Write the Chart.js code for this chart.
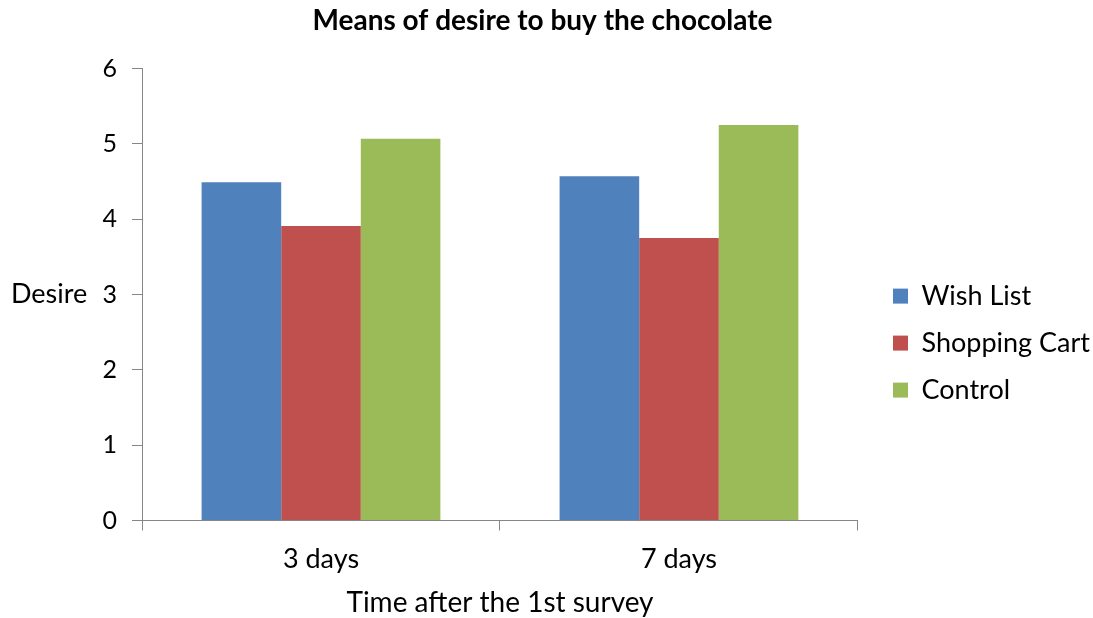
<!DOCTYPE html>
<html><head><meta charset="utf-8">
<script src="https://cdn.jsdelivr.net/npm/chart.js@4/dist/chart.umd.min.js"></script>
<style>html,body{margin:0;padding:0;background:#fff;}#wrap{width:1093px;height:618px;}</style>
</head><body><div id="wrap"><canvas id="c" width="1093" height="618"></canvas></div>
<script>
const categories = ["3 days", "7 days"];
const wishList = [4.49, 4.57];
const shoppingCart = [3.91, 3.75];
const control = [5.07, 5.25];
const yTicks = [0, 1, 2, 3, 4, 5, 6];
const titleText = "Means of desire to buy the chocolate";
const xTitle = "Time after the 1st survey";
const yTitle = "Desire";

const FONT = "Lato, 'Open Sans', sans-serif";
const axisColor = "#868686";

const yTitlePlugin = {
  id: 'yTitle',
  afterDraw(chart) {
    const ctx = chart.ctx;
    const y = chart.scales.y;
    ctx.save();
    ctx.font = "27px " + FONT;
    ctx.fillStyle = "#000";
    ctx.textAlign = "left";
    ctx.textBaseline = "middle";
    ctx.fillText(yTitle, 11, y.getPixelForValue(3));
    ctx.restore();
  }
};

// leave a small gap between the plot area and the legend
const legendGapPlugin = {
  id: 'legendGap',
  afterLayout(chart) {
    const lg = chart.legend;
    if (lg) { lg.left += 15; lg.right += 15; }
  }
};

new Chart(document.getElementById('c'), {
  type: 'bar',
  data: {
    labels: categories,
    datasets: [
      { label: 'Wish List', data: wishList, backgroundColor: '#4F81BD' },
      { label: 'Shopping Cart', data: shoppingCart, backgroundColor: '#C0504D' },
      { label: 'Control', data: control, backgroundColor: '#9BBB59' }
    ]
  },
  options: {
    responsive: false,
    animation: false,
    categoryPercentage: 0.667,
    barPercentage: 1.0,
    layout: { padding: { left: 0, right: 8, top: 0, bottom: 0 } },
    plugins: {
      title: {
        display: true, text: titleText, color: '#000',
        font: { family: FONT, size: 28, weight: 'bold' },
        padding: { top: 4, bottom: 31 }
      },
      legend: {
        position: 'right',
        title: { display: true, text: ' ', font: { size: 1 }, padding: { top: 67, bottom: 0 } },
        labels: {
          color: '#000', font: { family: FONT, size: 27 },
          boxWidth: 15, boxHeight: 15, padding: 20
        }
      },
      tooltip: { enabled: false }
    },
    scales: {
      x: {
        grid: { drawOnChartArea: false, drawTicks: true, tickLength: 10, color: axisColor, offset: true },
        border: { color: axisColor, width: 1 },
        ticks: { color: '#000', font: { family: FONT, size: 27, lineHeight: 1.0 }, padding: 15.5 },
        title: { display: true, text: xTitle, color: '#000', font: { family: FONT, size: 28, lineHeight: 1.0 }, padding: { top: 0, bottom: 1.5 } }
      },
      y: {
        min: 0, max: 6,
        afterBuildTicks(s) { s.ticks = yTicks.map(v => ({ value: v })); },
        afterFit(s) { s.width = 142; },
        grid: { drawOnChartArea: false, drawTicks: true, tickLength: 10, color: axisColor },
        border: { color: axisColor, width: 1 },
        ticks: { color: '#000', font: { family: FONT, size: 25 }, padding: 15 }
      }
    }
  },
  plugins: [yTitlePlugin, legendGapPlugin]
});
</script></body></html>
